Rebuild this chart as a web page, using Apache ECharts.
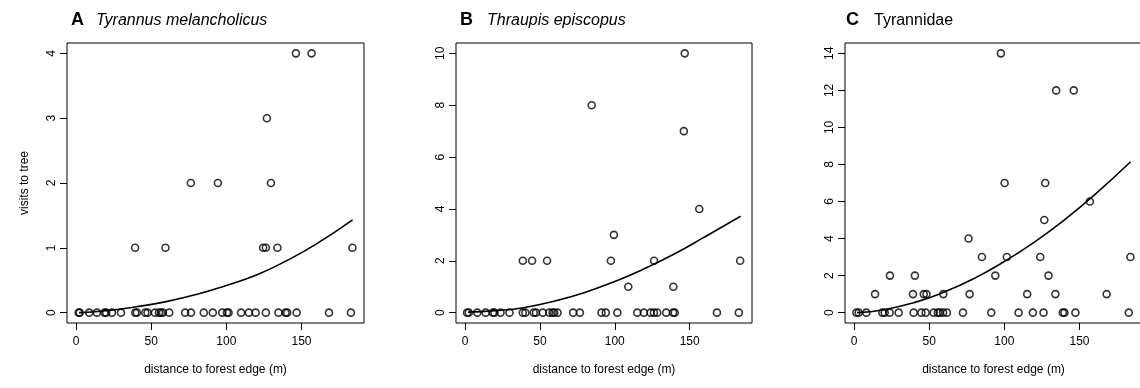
<!DOCTYPE html>
<html>
<head>
<meta charset="utf-8">
<script src="https://cdn.jsdelivr.net/npm/echarts@6/dist/echarts.min.js"></script>
<style>
  html, body { margin: 0; padding: 0; background: #fff; }
  #chart { width: 1140px; height: 388px; }
</style>
</head>
<body>
<div id="chart"></div>
<script>
// ===== data =====
const xTicks = [0, 50, 100, 150]
const yTicksA = [0, 1, 2, 3, 4]
const yTicksB = [0, 2, 4, 6, 8, 10]
const yTicksC = [0, 2, 4, 6, 8, 10, 12, 14]

// A  Tyrannus melancholicus
const distA = [1.8, 2.4, 8.8, 13.9, 19.0, 20.1, 23.9, 29.9, 39.3, 39.4, 40.5, 46.1, 47.6, 52.5, 55.2, 56.5,
  57.8, 59.5, 62.0, 72.6, 76.4, 76.5, 85.0, 91.0, 94.4, 97.3, 100.4, 101.5, 109.8, 115.0, 119.5, 124.5,
  126.3, 126.3, 127.0, 129.7, 134.0, 134.7, 139.4, 140.5, 146.3, 146.8, 156.7, 168.3, 182.9, 183.9]
const visitsA = [0, 0, 0, 0, 0, 0, 0, 0, 1, 0, 0, 0, 0, 0, 0, 0,
  0, 1, 0, 0, 2, 0, 0, 0, 2, 0, 0, 0, 0, 0, 0, 1,
  0, 1, 3, 2, 1, 0, 0, 0, 4, 0, 4, 0, 0, 1]

// B  Thraupis episcopus
const distB = [1.4, 2.5, 8.2, 13.8, 18.6, 19.7, 23.7, 29.7, 38.6, 38.6, 40.3, 44.8, 45.9, 47.4, 51.9, 54.8,
  56.3, 58.5, 59.6, 61.8, 72.2, 76.7, 84.6, 91.1, 94.0, 97.4, 99.4, 101.7, 109.0, 115.0, 119.4, 123.9,
  126.1, 126.2, 128.3, 134.3, 138.9, 139.1, 140.0, 146.1, 146.7, 156.4, 168.2, 182.8, 183.7]
const visitsB = [0, 0, 0, 0, 0, 0, 0, 0, 0, 2, 0, 2, 0, 0, 0, 2,
  0, 0, 0, 0, 0, 0, 8, 0, 0, 2, 3, 0, 1, 0, 0, 0,
  0, 2, 0, 0, 0, 1, 0, 7, 10, 4, 0, 0, 2]

// C  Tyrannidae
const distC = [1.6, 3.1, 8.2, 14.0, 18.9, 20.4, 23.7, 23.9, 29.7, 39.2, 39.7, 40.5, 44.8, 46.4, 47.7, 48.2,
  53.0, 55.8, 57.0, 59.2, 59.4, 61.8, 72.5, 76.2, 76.9, 85.1, 91.3, 94.0, 97.7, 100.2, 101.7, 109.5,
  115.2, 119.0, 123.9, 126.1, 126.6, 127.2, 129.4, 134.0, 134.5, 138.9, 140.0, 146.2, 147.3, 156.9,
  168.1, 182.8, 183.9]
const visitsC = [0, 0, 0, 1, 0, 0, 0, 2, 0, 1, 0, 2, 0, 1, 0, 1,
  0, 0, 0, 0, 1, 0, 0, 4, 1, 3, 0, 2, 14, 7, 3, 0,
  1, 0, 3, 0, 5, 7, 2, 1, 12, 0, 0, 12, 0, 6,
  1, 0, 3]

// fitted curves, sampled along x
const fitX = [2, 20, 40, 60, 80, 100, 120, 140, 160, 184]
const fitA = [0.0, 0.03, 0.09, 0.17, 0.28, 0.42, 0.58, 0.8, 1.06, 1.43]
const fitB = [0.02, 0.07, 0.2, 0.45, 0.78, 1.2, 1.7, 2.27, 2.92, 3.72]
const fitC = [0.0, 0.16, 0.54, 1.11, 1.85, 2.76, 3.81, 5.01, 6.36, 8.15]

// ===== helpers =====
const FONT = 'Liberation Sans, Arial, Helvetica, sans-serif'
const X_MIN = -6, X_MAX = 191.6
const pairs = (xs, ys) => xs.map((x, i) => [x, ys[i]])

const panels = [
  { left: 67, width: 297, ticks: yTicksA, ymin: -0.16, ymax: 4.16, pts: pairs(distA, visitsA), fit: pairs(fitX, fitA), yName: 'visits to tree' },
  { left: 456, width: 296, ticks: yTicksB, ymin: -0.4, ymax: 10.4, pts: pairs(distB, visitsB), fit: pairs(fitX, fitB), yName: '' },
  { left: 845, width: 297, ticks: yTicksC, ymin: -0.56, ymax: 14.56, pts: pairs(distC, visitsC), fit: pairs(fitX, fitC), yName: '' },
]
const N = panels.length

// hidden 0..1 anchor axes: the real axes sit "on zero" of these, i.e. on the box edges
const anchor = (gridIndex, position) => ({
  type: 'value', gridIndex, position, min: 0, max: 1, show: false,
  axisLine: { show: false, onZero: false },
})

const chart = echarts.init(document.getElementById('chart'))

const option = {
  animation: false,
  backgroundColor: '#fff',
  title: [
    { text: 'A', left: 66, top: 6, textStyle: { fontFamily: FONT, fontSize: 18, fontWeight: 'bold', color: '#000' } },
    { text: 'Tyrannus melancholicus', left: 91, top: 8, textStyle: { fontFamily: FONT, fontSize: 16, fontStyle: 'italic', fontWeight: 'normal', color: '#000' } },
    { text: 'B', left: 455, top: 6, textStyle: { fontFamily: FONT, fontSize: 18, fontWeight: 'bold', color: '#000' } },
    { text: 'Thraupis episcopus', left: 482, top: 8, textStyle: { fontFamily: FONT, fontSize: 16, fontStyle: 'italic', fontWeight: 'normal', color: '#000' } },
    { text: 'C', left: 841, top: 6, textStyle: { fontFamily: FONT, fontSize: 18, fontWeight: 'bold', color: '#000' } },
    { text: 'Tyrannidae', left: 869, top: 8, textStyle: { fontFamily: FONT, fontSize: 16, fontWeight: 'normal', color: '#000' } },
  ],
  grid: panels.map(p => ({
    left: p.left, top: 43, width: p.width, height: 280,
    show: true, borderColor: '#000', borderWidth: 1,
    containLabel: false, outerBoundsMode: 'none',
  })),
  xAxis: panels.map((p, i) => anchor(i, 'top')).concat(panels.map((p, i) => ({
    type: 'value', gridIndex: i, position: 'bottom', min: X_MIN, max: X_MAX,
    axisLine: { show: false, onZero: true },
    splitLine: { show: false },
    axisTick: { show: true, length: 7, customValues: xTicks, lineStyle: { color: '#000', width: 1 } },
    axisLabel: { customValues: xTicks, fontFamily: FONT, fontSize: 12, color: '#000', margin: 13 },
    name: 'distance to forest edge (m)', nameLocation: 'middle', nameGap: 41,
    nameTextStyle: { fontFamily: FONT, fontSize: 12, color: '#000' },
  }))),
  yAxis: panels.map((p, i) => anchor(i, 'right')).concat(panels.map((p, i) => ({
    type: 'value', gridIndex: i, position: 'left', min: p.ymin, max: p.ymax,
    axisLine: { show: false, onZero: true },
    splitLine: { show: false },
    axisTick: { show: true, length: 7, customValues: p.ticks, lineStyle: { color: '#000', width: 1 } },
    axisLabel: { customValues: p.ticks, rotate: 90, fontFamily: FONT, fontSize: 12, color: '#000', margin: 9 },
    name: p.yName, nameLocation: 'middle', nameGap: 36, nameRotate: 90,
    nameTextStyle: { fontFamily: FONT, fontSize: 12, color: '#000' },
  }))),
  series: panels.flatMap((p, i) => [
    {
      type: 'scatter', xAxisIndex: N + i, yAxisIndex: N + i, data: p.pts,
      symbol: 'circle', symbolSize: 7,
      itemStyle: { color: 'rgba(0,0,0,0)', borderColor: '#000', borderWidth: 1.6 },
      silent: true,
    },
    {
      type: 'line', xAxisIndex: N + i, yAxisIndex: N + i, data: p.fit,
      smooth: true, symbol: 'none',
      lineStyle: { color: '#000', width: 1.6 },
      silent: true,
    },
  ]),
}

chart.setOption(option)
</script>
</body>
</html>
